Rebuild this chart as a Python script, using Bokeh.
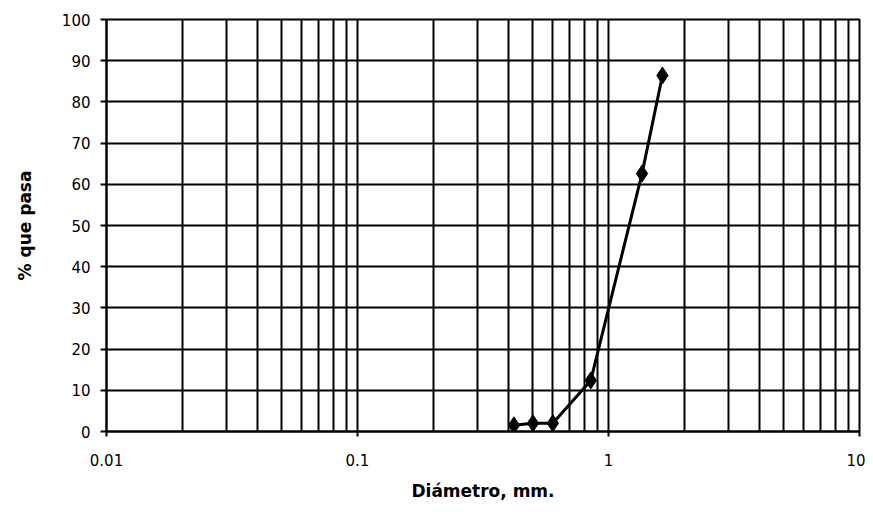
from bokeh.plotting import figure
from bokeh.models import FixedTicker, Range1d
from bokeh.embed import file_html
from bokeh.resources import INLINE

# Data
diametro = [0.42, 0.50, 0.60, 0.85, 1.36, 1.64]
pasa = [1.5, 2.0, 2.0, 12.4, 62.6, 86.4]

x_major = [0.01, 0.1, 1, 10]
x_labels = ["0.01", "0.1", "1", "10"]
x_minor = [m * d for d in [0.01, 0.1, 1] for m in range(2, 10)]
y_major = list(range(0, 101, 10))

FONT = "DejaVu Sans"

p = figure(frame_width=753, frame_height=412, x_axis_type="log",
           x_range=Range1d(0.01, 10), y_range=Range1d(0, 100),
           output_backend="svg", toolbar_location=None,
           min_border_left=106, min_border_right=6,
           min_border_top=19, min_border_bottom=73)

p.background_fill_color = "white"
p.border_fill_color = "white"
p.outline_line_color = "black"
p.outline_line_width = 2

p.xaxis.ticker = FixedTicker(ticks=x_major, minor_ticks=x_minor)
p.xaxis.major_label_overrides = {t: l for t, l in zip(x_major, x_labels)}
p.yaxis.ticker = FixedTicker(ticks=y_major)

p.xgrid.grid_line_color = "black"
p.xgrid.grid_line_width = 2
p.xgrid.minor_grid_line_color = "black"
p.xgrid.minor_grid_line_width = 2
p.ygrid.grid_line_color = "black"
p.ygrid.grid_line_width = 2

for ax in (p.xaxis, p.yaxis):
    ax.axis_line_color = "black"
    ax.axis_line_width = 2
    ax.major_tick_line_color = "black"
    ax.major_tick_line_width = 2
    ax.minor_tick_line_color = "black"
    ax.major_label_text_font = FONT
    ax.major_label_text_font_size = "15px"
    ax.major_label_text_color = "black"
    ax.axis_label_text_font = FONT
    ax.axis_label_text_font_size = "17px"
    ax.axis_label_text_font_style = "bold"
    ax.axis_label_text_color = "black"

p.xaxis.major_tick_out = 5
p.xaxis.major_tick_in = 0
p.xaxis.minor_tick_out = 0
p.xaxis.minor_tick_in = 4
p.xaxis.major_label_standoff = 17
p.xaxis.axis_label = "Diámetro, mm."
p.xaxis.axis_label_standoff = 12

p.yaxis.major_tick_out = 6
p.yaxis.major_tick_in = 0
p.yaxis.minor_tick_out = 0
p.yaxis.minor_tick_in = 0
p.yaxis.major_label_standoff = 10
p.yaxis.axis_label = "% que pasa"
p.yaxis.axis_label_standoff = 24

p.line(diametro, pasa, line_color="black", line_width=3)
p.scatter(diametro, pasa, marker="diamond", size=17, fill_color="black", line_color="black")

open("out.html", "w").write(file_html(p, INLINE))
